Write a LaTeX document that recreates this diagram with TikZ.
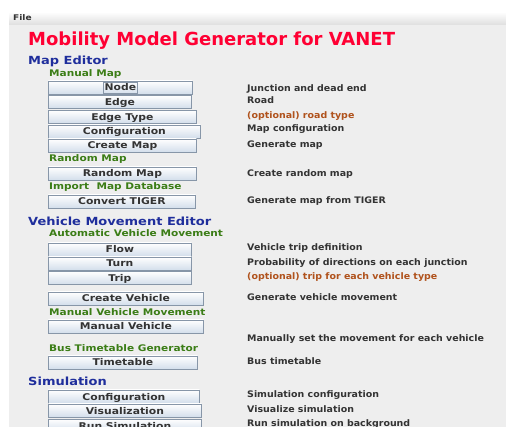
\documentclass[tikz,border=0pt]{standalone}
\usepackage{fontspec}
\setmainfont{DejaVu Sans}
\newfontfamily\guisans[FakeStretch=1.16]{DejaVu Sans}
\newfontfamily\descsans[FakeStretch=1.05]{DejaVu Sans}
\usepackage{xcolor}
\usetikzlibrary{positioning}
\definecolor{panelgray}{HTML}{EEEEEE}
\definecolor{bargray}{HTML}{DEDEDE}
\definecolor{titlered}{HTML}{FF0033}
\definecolor{headblue}{HTML}{1F2E9C}
\definecolor{subgreen}{HTML}{3B7D16}
\definecolor{optbrown}{HTML}{B0521C}
\definecolor{txtgray}{HTML}{333333}
\definecolor{btnedge}{HTML}{8796A8}
\definecolor{btnlow}{HTML}{D3DEEB}

\begin{document}
\begin{tikzpicture}[x=1pt,y=-1pt,
    btn/.style={draw=btnedge,line width=0.8pt,top color=white,bottom color=btnlow,
      minimum height=13pt,minimum width=#1,anchor=west,inner sep=0pt,text=txtgray,
      font=\guisans\fontsize{9.3}{9.3}\selectfont\bfseries,text height=7pt,text depth=0pt},
    focusring/.style={draw=btnedge,line width=0.6pt,minimum width=34pt,minimum height=11pt,inner sep=0pt},
    heading/.style={anchor=base west,inner sep=0pt,text=headblue,font=\guisans\fontsize{11.2}{11.2}\selectfont\bfseries},
    group/.style={anchor=base west,inner sep=0pt,text=subgreen,font=\guisans\fontsize{9.1}{9.1}\selectfont\bfseries},
    desc/.style={anchor=base west,inner sep=0pt,text=txtgray,font=\descsans\fontsize{9}{9}\selectfont\bfseries},
    optdesc/.style={desc,text=optbrown}]
    \useasboundingbox (0,0) rectangle (506,427);
    % window: white frame, menu bar and panel
    \fill[white] (0,0) rectangle (506,427);
    \shade[top color=white,bottom color=bargray] (9,12) rectangle (506,25);
    \fill[panelgray] (9,25) rectangle (506,427);
    \node[anchor=base west,inner sep=0pt,text=txtgray,font=\guisans\fontsize{7.8}{7.8}\selectfont\bfseries] (file) at (13,20.5) {File};
    \node[anchor=base west,inner sep=0pt,text=titlered,font=\fontsize{18}{18}\selectfont\bfseries] (title) at (28,46) {Mobility Model Generator for VANET};

    % map editor
    \node[heading] (mapeditor) at (28,64.5) {Map Editor};
    \node[group] (manualmap) at (49,77) {Manual Map};
    \node[btn=144pt] (node) at (48,87.5) {Node};
    \node[focusring] (nodering) at (node.center) {};
    \node[btn=143pt] (edge) at (48,102) {Edge};
    \node[btn=148pt] (edgetype) at (48,117) {Edge Type};
    \node[btn=152pt] (mapconf) at (48,131.5) {Configuration};
    \node[btn=148pt] (createmap) at (48,145.5) {Create Map};
    \node[group] (randommap) at (49,162) {Random Map};
    \node[btn=148pt] (randombtn) at (48,173.5) {Random Map};
    \node[group] (importdb) at (49,190) {Import\ \ Map Database};
    \node[btn=147pt] (tiger) at (48,201.5) {Convert TIGER};
    \node[desc] (d-node) at (247,92) {Junction and dead end};
    \node[desc] (d-edge) at (247,104) {Road};
    \node[optdesc] (d-edgetype) at (247,118.5) {(optional) road type};
    \node[desc] (d-mapconf) at (247,132) {Map configuration};
    \node[desc] (d-createmap) at (247,148) {Generate map};
    \node[desc] (d-random) at (247,177) {Create random map};
    \node[desc] (d-tiger) at (247,204) {Generate map from TIGER};

    % vehicle movement editor
    \node[heading] (vehicleeditor) at (28,225.5) {Vehicle Movement Editor};
    \node[group] (automatic) at (49,237) {Automatic Vehicle Movement};
    \node[btn=143pt] (flow) at (48,249.5) {Flow};
    \node[btn=143pt] (turn) at (48,263.5) {Turn};
    \node[btn=143pt] (trip) at (48,278) {Trip};
    \node[btn=155pt] (createveh) at (48,298.5) {Create Vehicle};
    \node[group] (manualmove) at (49,316) {Manual Vehicle Movement};
    \node[btn=155pt] (manualveh) at (48,326.5) {Manual Vehicle};
    \node[group] (busgen) at (49,352) {Bus Timetable Generator};
    \node[btn=149pt] (timetable) at (48,362.5) {Timetable};
    \node[desc] (d-flow) at (247,251) {Vehicle trip definition};
    \node[desc] (d-turn) at (247,265.5) {Probability of directions on each junction};
    \node[optdesc] (d-trip) at (247,280) {(optional) trip for each vehicle type};
    \node[desc] (d-createveh) at (247,300.5) {Generate vehicle movement};
    \node[desc] (d-manualveh) at (247,341.5) {Manually set the movement for each vehicle};
    \node[desc] (d-timetable) at (247,365) {Bus timetable};

    % simulation
    \node[heading] (simulation) at (28,386) {Simulation};
    \node[btn=151pt] (simconf) at (48,396.5) {Configuration};
    \node[btn=153pt] (visual) at (48,410.5) {Visualization};
    \node[btn=153pt] (runsim) at (48,425.5) {Run Simulation};
    \node[desc] (d-simconf) at (247,398) {Simulation configuration};
    \node[desc] (d-visual) at (247,412.5) {Visualize simulation};
    \node[desc] (d-runsim) at (247,427) {Run simulation on background};
\end{tikzpicture}
\end{document}
